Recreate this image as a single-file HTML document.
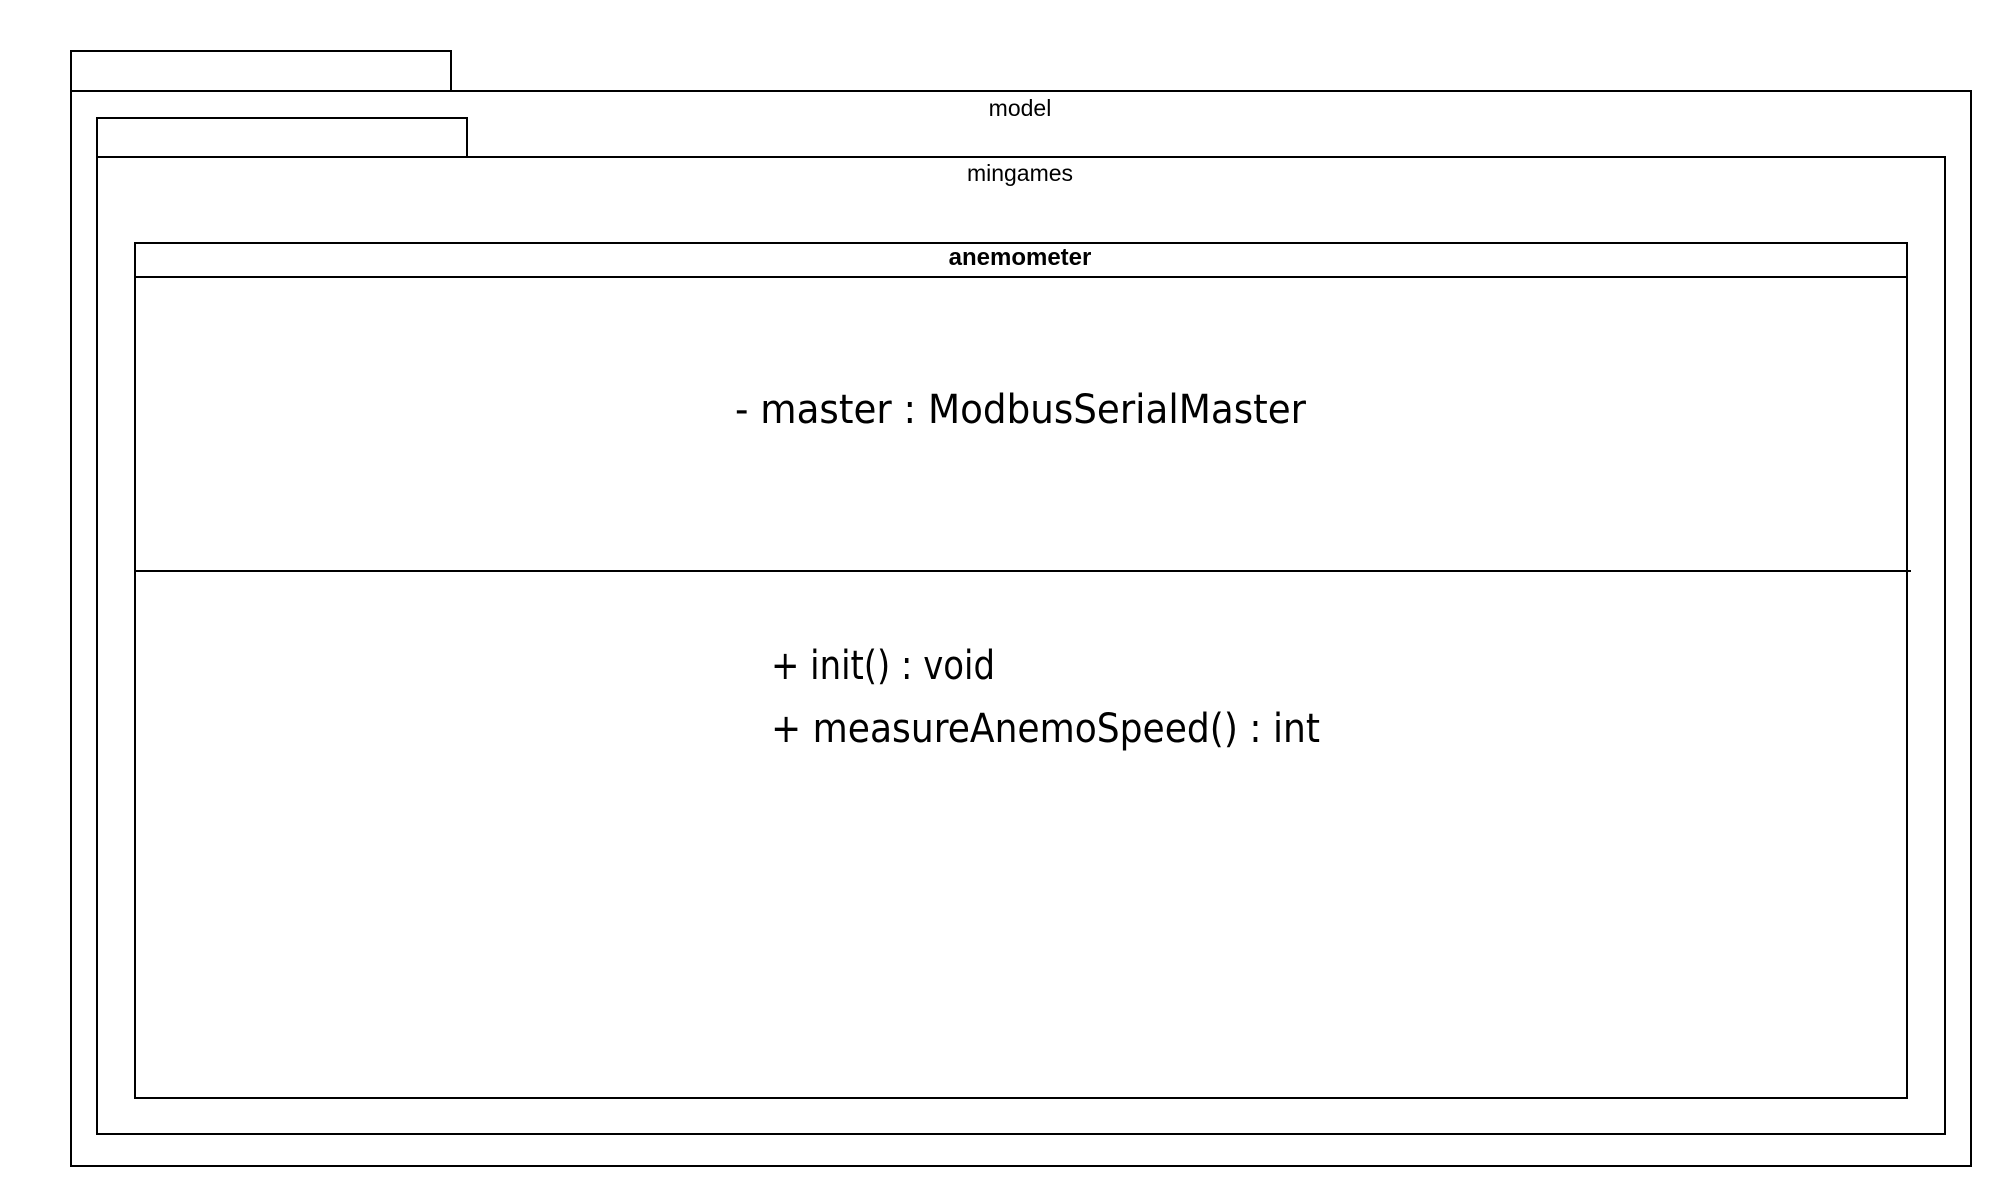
<!DOCTYPE html>
<html><head><meta charset="utf-8"><style>html,body{margin:0;padding:0;background:#fff}svg{display:block}</style></head>
<body>
<svg width="2002" height="1204" viewBox="0 0 2002 1204" xmlns="http://www.w3.org/2000/svg">
<g fill="none" stroke="#000" stroke-width="2">
<rect x="71" y="51" width="380" height="40"/>
<rect x="71" y="91" width="1900" height="1075"/>
<rect x="97" y="118" width="370" height="39"/>
<rect x="97" y="157" width="1848" height="977"/>
<rect x="135" y="243" width="1772" height="855"/>
<line x1="135" y1="277" x2="1907" y2="277"/>
<line x1="135" y1="571" x2="1911" y2="571"/>
</g>
<g font-family="Liberation Sans, sans-serif" font-size="23" text-anchor="middle" fill="#000">
<text x="1020" y="116">model</text>
<text x="1020" y="181">mingames</text>
<text x="1020" y="265" font-weight="bold" font-size="24">anemometer</text>
</g>
<g font-family="DejaVu Sans, sans-serif" font-size="40" fill="#000">
<text x="735" y="423" textLength="571" lengthAdjust="spacingAndGlyphs">- master : ModbusSerialMaster</text>
<text x="771" y="679" textLength="224" lengthAdjust="spacingAndGlyphs">+ init() : void</text>
<text x="771" y="742" textLength="549" lengthAdjust="spacingAndGlyphs">+ measureAnemoSpeed() : int</text>
</g>
</svg>
</body></html>
